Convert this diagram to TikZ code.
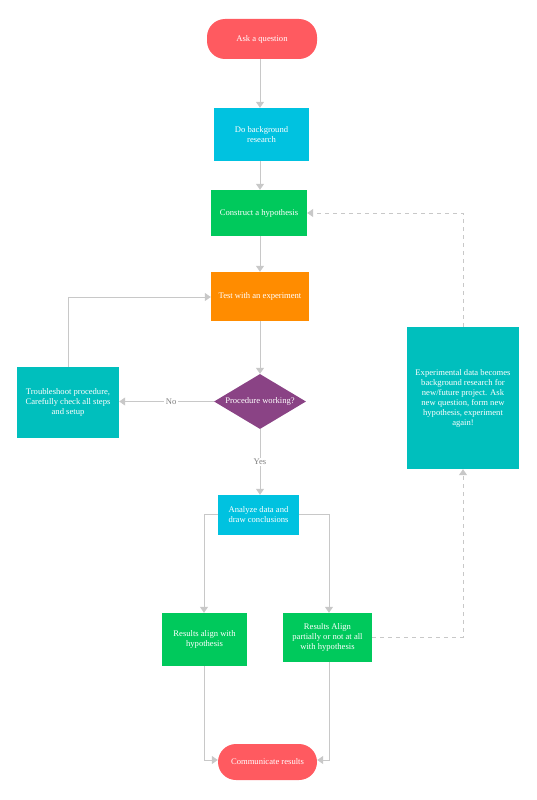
\documentclass[tikz,border=0pt]{standalone}
\usepackage{fontspec}
\setmainfont{Liberation Serif}
\usetikzlibrary{shapes.geometric,arrows.meta}
\definecolor{pillred}{HTML}{FF5A60}
\definecolor{skyc}{HTML}{00C2E0}
\definecolor{grn}{HTML}{00C95C}
\definecolor{orng}{HTML}{FF8C00}
\definecolor{purp}{HTML}{8A4385}
\definecolor{teal}{HTML}{00BFBD}
\definecolor{lin}{HTML}{C8C8C8}
\tikzset{
  box/.style={rectangle, draw=none, text=white, align=center, inner sep=0pt,
    font=\fontsize{8.6}{10}\selectfont},
  pill/.style={box, fill=pillred, rounded corners=18pt},
  conn/.style={draw=lin, line width=0.8pt, -{Triangle[width=8pt,length=6pt]}},
  dconn/.style={conn, dash pattern=on 4pt off 4pt},
  lbl/.style={fill=white, text=gray, inner sep=1.5pt, font=\fontsize{8.6}{10}\selectfont}
}
\begin{document}
\begin{tikzpicture}[x=1pt,y=-1pt]
\useasboundingbox (0,0) rectangle (537,800);
\node[pill, minimum width=110pt, minimum height=40pt] (ask) at (262,39) {Ask a question};
\node[box, fill=skyc, minimum width=95pt, minimum height=53pt] (res) at (261.5,134.5) {Do background\\research};
\node[box, fill=grn, minimum width=96pt, minimum height=46pt] (hyp) at (259,213) {Construct a hypothesis};
\node[box, fill=orng, minimum width=98pt, minimum height=49pt] (test) at (260,296.5) {Test with an experiment};
\node[diamond, fill=purp, draw=none, inner sep=0pt, minimum width=92pt, minimum height=55pt] (dia) at (260,401.5) {};
\node[box] (diatext) at (dia) {Procedure working?};
\node[box, fill=teal, minimum width=102pt, minimum height=71pt] (trb) at (68,402.5) {Troubleshoot procedure,\\Carefully check all steps\\and setup};
\node[box, fill=teal, minimum width=112pt, minimum height=142pt] (exp) at (463,398) {Experimental data becomes\\background research for\\new/future project. Ask\\new question, form new\\hypothesis, experiment\\again!};
\node[box, fill=skyc, minimum width=81pt, minimum height=40pt] (ana) at (258.5,515) {Analyze data and\\draw conclusions};
\node[box, fill=grn, minimum width=85pt, minimum height=53pt] (ral) at (204.5,639.5) {Results align with\\hypothesis};
\node[box, fill=grn, minimum width=89pt, minimum height=49pt] (rpa) at (327.5,637.5) {Results Align\\partially or not at all\\with hypothesis};
\node[pill, minimum width=99pt, minimum height=36pt] (com) at (267.5,762) {Communicate results};

\coordinate (col) at (260,0);
\coordinate (c1) at (68,297);
\coordinate (c2) at (204,514);
\coordinate (c3) at (329,514);
\coordinate (c4) at (204,760);
\coordinate (c5) at (329,760);
\coordinate (c6) at (463,637);
\coordinate (c7) at (463,213);
\coordinate (cno) at (0,402);

\draw[conn] (ask.south -| col) -- (res.north -| col);
\draw[conn] (res.south -| col) -- (hyp.north -| col);
\draw[conn] (hyp.south -| col) -- (test.north -| col);
\draw[conn] (test.south -| col) -- (dia.north);
\draw[conn] (dia.west) -- node[lbl, pos=0.45] {No} (trb.east |- dia.west);
\draw[conn] (trb.north -| c1) -- (c1) -- (c1 -| test.west);
\draw[conn] (dia.south) -- node[lbl, pos=0.5] {Yes} (ana.north -| dia.south);
\draw[conn] (ana.west |- c2) -- (c2) -- (ral.north -| c2);
\draw[conn] (ana.east |- c3) -- (c3) -- (rpa.north -| c3);
\draw[conn] (ral.south -| c4) -- (c4) -- (com.west |- c4);
\draw[conn] (rpa.south -| c5) -- (c5) -- (com.east |- c5);
\draw[dconn] (rpa.east |- c6) -- (c6) -- (exp.south);
\draw[dconn] (exp.north) -- (c7) -- (hyp.east);
\end{tikzpicture}
\end{document}
